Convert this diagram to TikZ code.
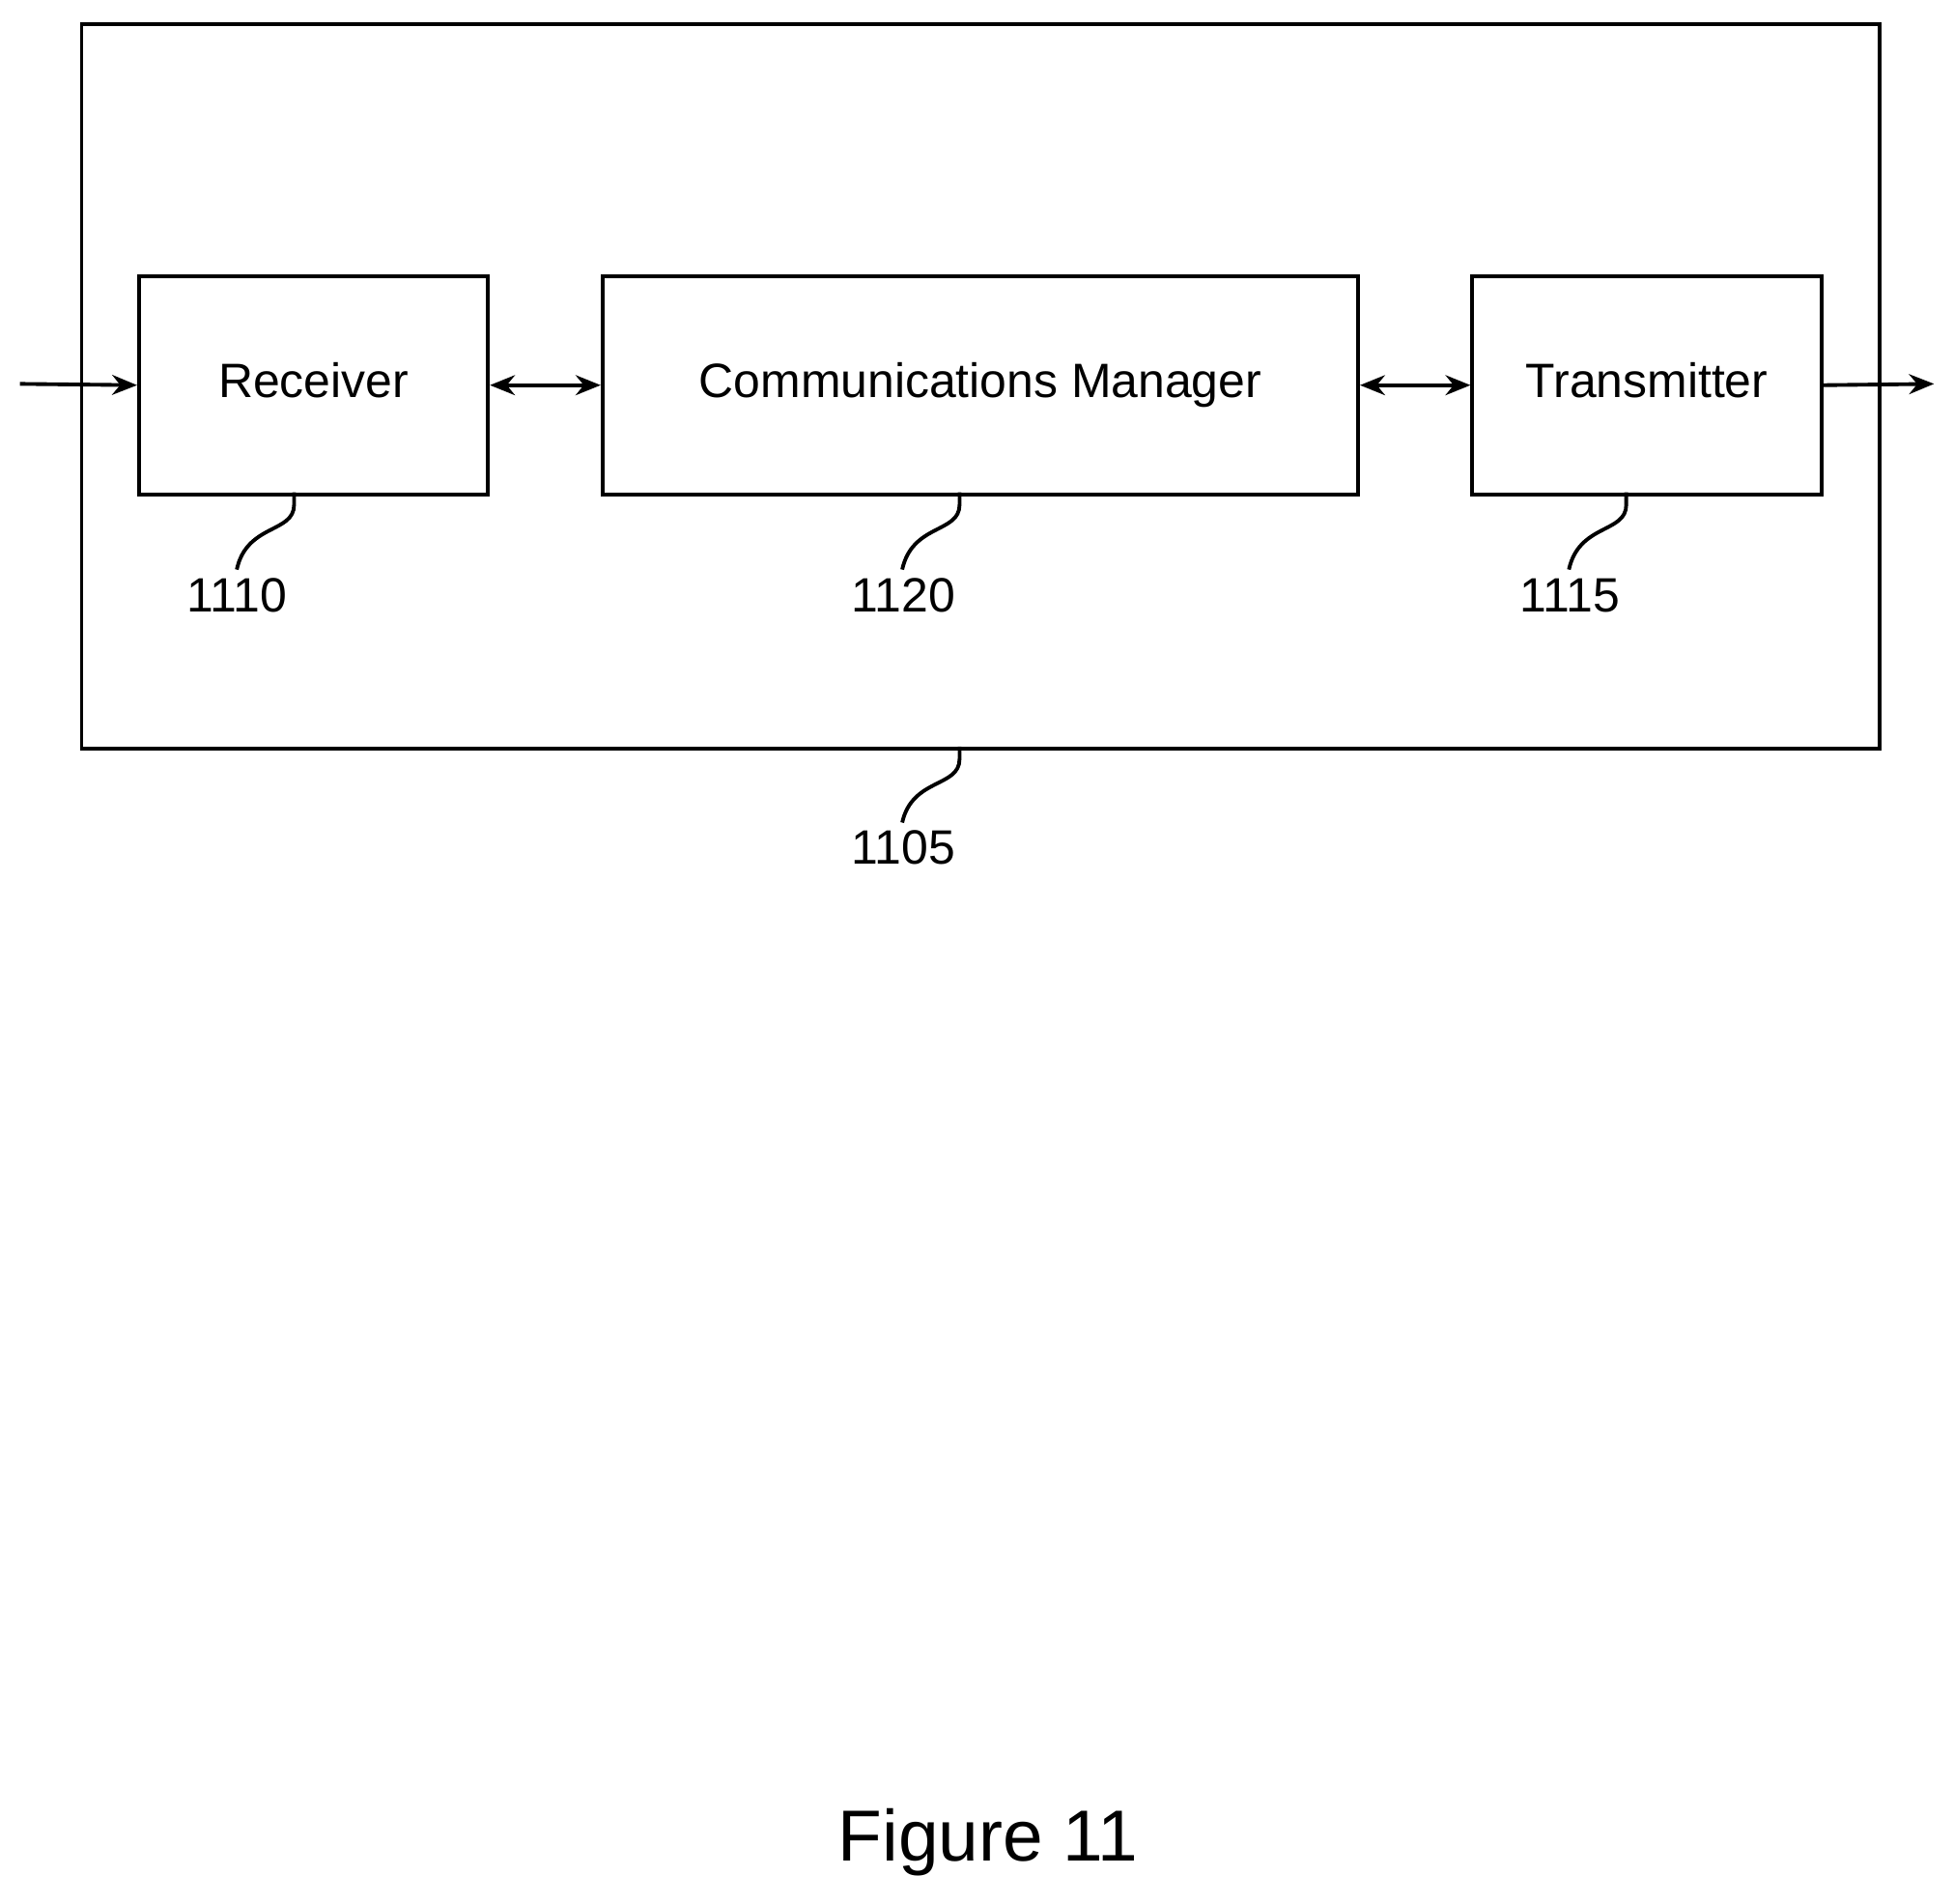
\documentclass[tikz,border=0pt]{standalone}
\usepackage{fontspec}
\setmainfont{Liberation Sans}
\usetikzlibrary{arrows.meta}

\begin{document}
\begin{tikzpicture}[x=0.01cm, y=-0.01cm, line width=0.09cm,
    blk/.style={draw, line width=0.03cm, anchor=north west, inner sep=0pt},
    arr/.style={line width=0.03cm, -{Stealth[length=0.2cm, width=0.16cm]}},
    darr/.style={line width=0.03cm, {Stealth[length=0.2cm, width=0.16cm]}-{Stealth[length=0.2cm, width=0.16cm]}},
    lead/.style={line width=0.03cm},
    blktext/.style={text height=1.5ex, text depth=0.4ex},
    every node/.append style={font=\fontsize{11pt}{13pt}\selectfont}]
    \useasboundingbox (0,0) rectangle (1568,1527);
    \node[blk, minimum width=14.42cm, minimum height=5.81cm] (dev) at (64,18) {};
    \node[blk, minimum width=2.8cm, minimum height=1.75cm] (rx) at (110,220) {};
    \node[blk, minimum width=6.06cm, minimum height=1.75cm] (cm) at (482,220) {};
    \node[blk, minimum width=2.8cm, minimum height=1.75cm] (tx) at (1180,220) {};
    \node[blktext] at (rx.center) {Receiver};
    \node[blktext] at (cm.center) {Communications Manager};
    \node[blktext] at (tx.center) {Transmitter};

    \coordinate (in) at (16,308);
    \coordinate (out) at (1552,308);
    \draw[arr] (in) -- (rx.west);
    \draw[darr] (rx.east) -- (cm.west);
    \draw[darr] (cm.east) -- (tx.west);
    \draw[arr] (tx.east) -- (out);

    % reference leaders
    \node (l1110) at (190,478) {1110};
    \node (l1120) at (725,478) {1120};
    \node (l1115) at (1260,478) {1115};
    \node (l1105) at (725,680) {1105};
    \draw[lead] (236,395) -- (236,405) .. controls (236,428) and (198,420) .. (190,457);
    \draw[lead] (770,395) -- (770,405) .. controls (770,428) and (732,420) .. (724,457);
    \draw[lead] (1305,395) -- (1305,405) .. controls (1305,428) and (1267,420) .. (1259,457);
    \draw[lead] (770,599) -- (770,609) .. controls (770,632) and (732,624) .. (724,660);

    \node[font=\fontsize{16.5pt}{20pt}\selectfont] (fig) at (793,1478) {Figure 11};
\end{tikzpicture}
\end{document}
